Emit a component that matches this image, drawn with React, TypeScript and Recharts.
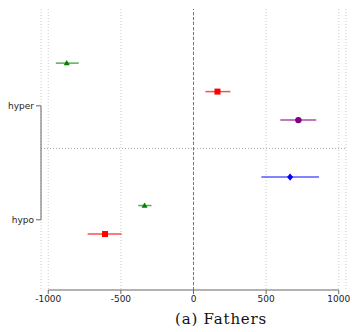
import {
  ScatterChart,
  Scatter,
  XAxis,
  YAxis,
  CartesianGrid,
  ReferenceLine,
  ErrorBar,
} from "recharts";

// y slots: 0..2 = hyper group, 4..6 = hypo group
const xTicks = [-1000, -500, 0, 500, 1000];
const yTicks = [1.5, 5.5];
const yLabels: Record<string, string> = { "1.5": "hyper", "5.5": "hypo" };

const greenPoints = [
  { x: -873, y: 0, err: [75, 83] },
  { x: -337, y: 5, err: [43, 48] },
];
const redPoints = [
  { x: 165, y: 1, err: [83, 89] },
  { x: -609, y: 6, err: [120, 114] },
];
const purplePoints = [{ x: 722, y: 2, err: [124, 123] }];
const bluePoints = [{ x: 665, y: 4, err: [198, 199] }];

const Y_MIN = -1.9;
const Y_MAX = 7.965;

const tickStyle = { fontSize: 9, fill: "#222", fontFamily: "DejaVu Sans" };

const Triangle = (p: any) => (
  <polygon
    points={`${p.cx - 3},${p.cy + 2.2} ${p.cx + 3},${p.cy + 2.2} ${p.cx},${p.cy - 3}`}
    fill="#008000"
  />
);
const Square = (p: any) => (
  <rect x={p.cx - 3} y={p.cy - 3} width={6} height={6} fill="#ff0000" />
);
const Circle = (p: any) => <circle cx={p.cx} cy={p.cy} r={3.2} fill="#800080" />;
const Diamond = (p: any) => (
  <polygon
    points={`${p.cx},${p.cy - 3.6} ${p.cx + 3},${p.cy} ${p.cx},${p.cy + 3.6} ${p.cx - 3},${p.cy}`}
    fill="#0000ff"
  />
);

export default function App() {
  return (
    <div style={{ position: "absolute", left: 0, top: 0, width: 352, height: 332 }}>
      <ScatterChart
        width={352}
        height={332}
        margin={{ top: 9, right: 6, bottom: 0, left: 0 }}
      >
        <CartesianGrid
          horizontal={false}
          stroke="#cccccc"
          strokeDasharray="1 2"
        />
        <XAxis
          type="number"
          dataKey="x"
          domain={[-1050, 1050]}
          ticks={xTicks}
          axisLine={false}
          tickLine={{ stroke: "#666" }}
          tickSize={4}
          height={42}
          tick={tickStyle}
          allowDataOverflow
        />
        <YAxis
          type="number"
          dataKey="y"
          reversed
          domain={[Y_MIN, Y_MAX]}
          ticks={yTicks}
          tickFormatter={(v) => yLabels[String(v)] ?? ""}
          axisLine={false}
          tickLine={{ stroke: "#666" }}
          tickSize={5}
          tickMargin={2}
          width={41}
          tick={tickStyle}
          allowDataOverflow
        />
        <ReferenceLine y={3} stroke="#aaaaaa" strokeDasharray="1 2" />
        <ReferenceLine x={0} stroke="#777" strokeDasharray="3 2" />
        <ReferenceLine
          segment={[
            { x: -1000, y: Y_MAX },
            { x: 1000, y: Y_MAX },
          ]}
          stroke="#666"
          ifOverflow="visible"
        />
        <ReferenceLine
          segment={[
            { x: -1050, y: 1.5 },
            { x: -1050, y: 5.5 },
          ]}
          stroke="#666"
          ifOverflow="visible"
        />
        <Scatter data={greenPoints} fill="#008000" shape={Triangle} isAnimationActive={false}>
          <ErrorBar dataKey="err" direction="x" width={0} stroke="#008000" strokeOpacity={0.65} strokeWidth={1.5} />
        </Scatter>
        <Scatter data={redPoints} fill="#ff0000" shape={Square} isAnimationActive={false}>
          <ErrorBar dataKey="err" direction="x" width={0} stroke="#ff0000" strokeOpacity={0.7} strokeWidth={1.5} />
        </Scatter>
        <Scatter data={purplePoints} fill="#800080" shape={Circle} isAnimationActive={false}>
          <ErrorBar dataKey="err" direction="x" width={0} stroke="#800080" strokeOpacity={0.7} strokeWidth={1.5} />
        </Scatter>
        <Scatter data={bluePoints} fill="#0000ff" shape={Diamond} isAnimationActive={false}>
          <ErrorBar dataKey="err" direction="x" width={0} stroke="#0000ff" strokeOpacity={0.65} strokeWidth={1.5} />
        </Scatter>
      </ScatterChart>
      <div
        style={{
          position: "absolute",
          left: 175,
          top: 310,
          fontFamily: "DejaVu Serif",
          fontSize: 15,
          letterSpacing: 0.8,
          color: "#111",
          whiteSpace: "nowrap",
        }}
      >
        (a) Fathers
      </div>
    </div>
  );
}
